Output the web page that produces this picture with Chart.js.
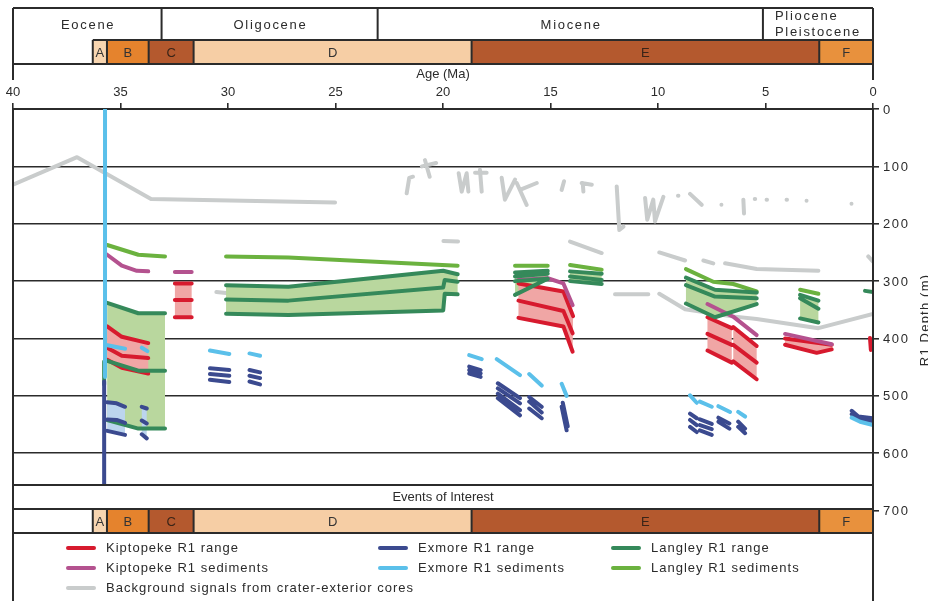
<!DOCTYPE html>
<html>
<head>
<meta charset="utf-8">
<script src="https://cdn.jsdelivr.net/npm/chart.js@4.4.1/dist/chart.umd.min.js"></script>
<style>
  html, body { margin: 0; padding: 0; background: #fff; }
  #chart { display: block; }
</style>
</head>
<body>
<canvas id="chart" width="928" height="601"></canvas>
<script>
// time scale
const epochNames = ["Eocene", "Oligocene", "Miocene", "Pliocene\nPleistocene"];
const epochBounds = [40, 33.09, 23.04, 5.12, 0];
const stageNames = ["A", "B", "C", "D", "E", "F"];
const stageBounds = [36.29, 35.63, 33.69, 31.6, 18.67, 2.5, 0];
const stageColors = ["#f7d5b0", "#e5832d", "#b4592e", "#f6cea5", "#b4592e", "#e8913d"];

const ageTicks = [40, 35, 30, 25, 20, 15, 10, 5, 0];
const depthTicks = [0, 100, 200, 300, 400, 500, 600, 700];

const seriesNames = [
  "Kiptopeke R1 range", "Kiptopeke R1 sediments",
  "Exmore R1 range", "Exmore R1 sediments",
  "Langley R1 range", "Langley R1 sediments",
  "Background signals from crater-exterior cores"
];

// [age Ma, depth m] segments
const kiptopekeRange = [
  [[32.47, 304], [31.69, 304]],
  [[32.47, 333], [31.69, 333]],
  [[32.47, 363], [31.69, 363]],
  [[35.62, 379], [34.94, 397], [33.71, 408]],
  [[35.62, 416], [34.94, 430], [33.71, 434]],
  [[35.62, 437], [34.94, 451], [33.71, 461]],
  [[16.49, 304], [14.40, 318], [13.95, 361]],
  [[16.49, 334], [14.40, 352], [13.97, 391]],
  [[16.49, 364], [14.40, 379], [13.97, 423]],
  [[7.70, 363], [6.57, 382]],
  [[7.70, 392], [6.57, 411]],
  [[7.70, 421], [6.57, 442]],
  [[6.50, 380], [5.41, 413]],
  [[6.50, 411], [5.41, 442]],
  [[6.50, 440], [5.41, 471]],
  [[4.09, 400], [1.92, 411]],
  [[4.09, 411], [2.62, 425], [1.92, 419]],
  [[0.14, 399], [0.10, 420]]
];
const kiptopekeBands = [[0, 2], [3, 5], [6, 8], [9, 11], [12, 14], [15, 16]];

const kiptopekeSediments = [
  [[35.62, 254], [34.94, 273], [34.24, 282], [33.71, 283]],
  [[32.47, 284], [31.69, 284]],
  [[16.49, 298], [15.13, 295], [14.40, 304], [13.97, 342]],
  [[7.70, 340], [6.50, 362], [5.41, 394]],
  [[4.09, 392], [1.92, 410]]
];

const exmoreRange = [
  [[35.76, 475], [35.76, 660]],
  [[35.62, 511], [35.18, 513], [34.79, 519]],
  [[35.62, 541], [35.18, 542], [34.79, 547]],
  [[35.62, 561], [34.79, 568]],
  [[34.01, 519], [33.78, 522]],
  [[34.01, 543], [33.78, 548]],
  [[34.01, 567], [33.78, 574]],
  [[30.84, 452], [29.94, 455]],
  [[30.84, 462], [29.94, 465]],
  [[30.84, 472], [29.94, 476]],
  [[29.00, 455], [28.51, 459]],
  [[29.00, 465], [28.51, 469]],
  [[29.00, 475], [28.51, 480]],
  [[18.78, 449], [18.25, 455]],
  [[18.78, 455], [18.25, 461]],
  [[18.78, 461], [18.25, 467]],
  [[17.45, 478], [16.42, 504]],
  [[17.45, 487], [16.42, 513]],
  [[17.45, 496], [16.42, 525]],
  [[17.45, 504], [16.42, 534]],
  [[15.99, 502], [15.41, 519]],
  [[15.99, 510], [15.41, 529]],
  [[15.99, 522], [15.41, 539]],
  [[14.48, 519], [14.25, 560]],
  [[14.43, 512], [14.20, 553]],
  [[8.51, 531], [8.20, 539]],
  [[8.51, 542], [8.20, 551]],
  [[8.51, 554], [8.20, 563]],
  [[8.05, 541], [7.50, 549]],
  [[8.05, 551], [7.50, 558]],
  [[8.05, 560], [7.50, 568]],
  [[7.19, 538], [6.68, 548]],
  [[7.19, 545], [6.68, 557]],
  [[6.27, 545], [5.95, 557]],
  [[6.27, 554], [5.95, 565]],
  [[0.99, 526], [0.68, 536], [0, 539]],
  [[0.99, 532], [0.68, 541], [0, 544]]
];
const exmoreBands = [[1, 3], [4, 6]];

const exmoreSediments = [
  [[35.72, 0], [35.72, 467]],
  [[35.72, 411], [34.79, 418]],
  [[34.01, 416], [33.75, 422]],
  [[30.84, 421], [29.94, 427]],
  [[29.00, 426], [28.51, 430]],
  [[18.78, 429], [18.20, 436]],
  [[17.50, 436], [16.42, 464]],
  [[15.99, 462], [15.41, 482]],
  [[14.48, 479], [14.25, 500]],
  [[8.51, 499], [8.20, 512]],
  [[8.05, 510], [7.50, 519]],
  [[7.19, 518], [6.65, 528]],
  [[6.27, 528], [5.95, 536]],
  [[0.99, 538], [0.60, 545], [0, 551]]
];

const langleyRange = [
  [[35.62, 338], [34.17, 356], [32.93, 356]],
  [[35.62, 439], [34.17, 456], [32.93, 456]],
  [[35.62, 542], [34.17, 557], [32.93, 557]],
  [[30.09, 307], [27.19, 310], [19.99, 282], [19.32, 288]],
  [[30.09, 332], [27.19, 334], [19.99, 311], [19.92, 298], [19.32, 301]],
  [[30.09, 357], [27.19, 359], [19.99, 351], [19.92, 322], [19.32, 323]],
  [[16.65, 285], [15.13, 282]],
  [[16.65, 292], [15.13, 287]],
  [[16.65, 300], [15.13, 296]],
  [[16.65, 324], [15.13, 296]],
  [[14.09, 283], [12.62, 287]],
  [[14.09, 292], [12.62, 298]],
  [[14.09, 300], [12.62, 305]],
  [[8.70, 294], [7.35, 315], [5.41, 320]],
  [[8.70, 307], [7.35, 327], [5.41, 330]],
  [[8.70, 339], [7.35, 363], [5.41, 340]],
  [[3.39, 324], [2.54, 334]],
  [[3.39, 330], [2.54, 348]],
  [[3.39, 365], [2.54, 372]],
  [[0.37, 317], [0, 319]],
  [[35.76, 440], [35.76, 480]]
];
const langleyBands = [[0, 2], [3, 5], [6, 9], [10, 12], [13, 15], [16, 18]];

const langleySediments = [
  [[35.62, 237], [34.17, 254], [32.93, 257]],
  [[30.09, 257], [27.19, 259], [19.32, 273]],
  [[16.65, 273], [15.13, 273]],
  [[14.09, 272], [12.62, 280]],
  [[8.70, 279], [7.43, 301], [6.50, 305], [5.41, 318]],
  [[3.39, 315], [2.54, 322]]
];

const background = [
  [[40, 132], [37.02, 84], [33.58, 157], [25.02, 163]],
  [[30.54, 319], [29.75, 322]],
  [[19.98, 230], [19.30, 231]],
  [[14.09, 231], [12.62, 251]],
  [[12.00, 323], [10.45, 323]],
  [[9.94, 322], [8.74, 349], [6.65, 361], [5.41, 366], [2.54, 382], [0, 357]],
  [[9.94, 250], [8.74, 264]],
  [[7.89, 264], [7.43, 269]],
  [[6.88, 269], [5.41, 279], [2.54, 282]],
  [[0.22, 257], [0, 266]],
  [[21.69, 147], [21.57, 120], [21.40, 118]],
  [[20.84, 89], [20.62, 118]],
  [[20.98, 100], [20.32, 94]],
  [[19.27, 112], [19.13, 144], [18.90, 112], [18.82, 144]],
  [[18.28, 106], [18.20, 144]],
  [[18.51, 111], [17.97, 111]],
  [[17.27, 120], [17.12, 158], [16.65, 123]],
  [[16.57, 129], [16.11, 167]],
  [[16.42, 141], [15.64, 129]],
  [[14.48, 141], [14.37, 126]],
  [[13.55, 129], [13.08, 132]],
  [[13.50, 129], [13.47, 144]],
  [[11.92, 135], [11.80, 211], [11.61, 205]],
  [[10.60, 155], [10.50, 193], [10.22, 158], [10.14, 196], [9.75, 153]],
  [[9.07, 151], [9.05, 151]],
  [[8.51, 148], [7.97, 167]],
  [[7.05, 167], [7.03, 167]],
  [[6.03, 158], [6.00, 182]],
  [[5.50, 157], [5.48, 157]],
  [[4.95, 158], [4.93, 158]],
  [[4.02, 158], [4.00, 158]],
  [[3.09, 160], [3.07, 160]],
  [[1.00, 165], [0.98, 165]]
];

const colors = {
  kipRange: "#d71a2e", kipSed: "#b4528f",
  exRange: "#3b4a8f", exSed: "#5bc0ea",
  lanRange: "#35895a", lanSed: "#6bb23f",
  bg: "#c9cccc",
  kipFill: "#f0a6a5", exFill: "#bcd5ee", lanFill: "#b9d79e"
};
const ink = "#2b2b2b";
const fontFamily = '"Liberation Sans", Arial, sans-serif';
Chart.defaults.font.family = fontFamily;

const toPoints = (segs) => segs.flatMap((s) => [
  ...s.map(([x, y]) => ({ x, y })),
  { x: s[s.length - 1][0], y: null }
]);

function lineSet(label, segs, color, order) {
  return {
    label, data: toPoints(segs), borderColor: color, borderWidth: 4,
    pointRadius: 0, fill: false, spanGaps: false, tension: 0,
    borderCapStyle: "round", borderJoinStyle: "round", order
  };
}

function bandSets(label, segs, bands, color, order) {
  return bands.map(([a, b]) => ({
    label,
    data: [...segs[a], ...segs[b].slice().reverse(), segs[a][0]].map(([x, y]) => ({ x, y })),
    borderWidth: 0, borderColor: "rgba(0,0,0,0)", backgroundColor: color,
    pointRadius: 0, fill: "shape", tension: 0, order
  }));
}

const datasets = [
  lineSet(seriesNames[6], background, colors.bg, 10),
  ...bandSets("lanFill", langleyRange, langleyBands, colors.lanFill, 7),
  ...bandSets("kipFill", kiptopekeRange, kiptopekeBands, colors.kipFill, 6),
  ...bandSets("exFill", exmoreRange, exmoreBands, colors.exFill, 6),
  lineSet(seriesNames[0], kiptopekeRange, colors.kipRange, 4),
  lineSet(seriesNames[1], kiptopekeSediments, colors.kipSed, 3),
  lineSet(seriesNames[4], langleyRange, colors.lanRange, 2),
  lineSet(seriesNames[5], langleySediments, colors.lanSed, 2),
  lineSet(seriesNames[2], exmoreRange, colors.exRange, 1),
  lineSet(seriesNames[3], exmoreSediments, colors.exSed, 0)
];

const legendColors = [colors.kipRange, colors.kipSed, colors.exRange, colors.exSed, colors.lanRange, colors.lanSed, colors.bg];

function label(ctx, s, x, y, size, spacing, align, color) {
  ctx.font = size + "px " + fontFamily;
  ctx.letterSpacing = spacing + "px";
  ctx.textAlign = align || "center";
  ctx.textBaseline = "middle";
  ctx.fillStyle = color || ink;
  ctx.fillText(s, align === "left" || !align ? x : x + spacing / 2, y);
}

function hline(ctx, x1, x2, y) { ctx.beginPath(); ctx.moveTo(x1, y); ctx.lineTo(x2, y); ctx.stroke(); }
function vline(ctx, x, y1, y2) { ctx.beginPath(); ctx.moveTo(x, y1); ctx.lineTo(x, y2); ctx.stroke(); }

function stageBar(ctx, xs, top, bottom) {
  for (let i = 0; i < stageNames.length; i++) {
    const x1 = xs.getPixelForValue(stageBounds[i]);
    const x2 = xs.getPixelForValue(stageBounds[i + 1]);
    ctx.fillStyle = stageColors[i];
    ctx.fillRect(x1, top, x2 - x1, bottom - top);
    label(ctx, stageNames[i], (x1 + x2) / 2, (top + bottom) / 2 + 1, 13, 0, "center", i === 2 || i === 4 ? "#3a2418" : "#333");
    vline(ctx, x1, top, bottom);
  }
}

const framePlugin = {
  id: "frame",
  beforeDraw(chart) {
    const { ctx } = chart;
    ctx.save();
    ctx.fillStyle = "#fff";
    ctx.fillRect(0, 0, chart.width, chart.height);
    ctx.restore();
  },
  afterDatasetsDraw(chart) {
    const { ctx, scales: { x, y }, chartArea: a } = chart;
    const evTop = 485, barTop = 509, barBot = a.bottom;
    ctx.save();
    ctx.fillStyle = "#fff";
    ctx.fillRect(a.left, evTop, a.right - a.left, barBot - evTop);
    ctx.strokeStyle = ink;
    ctx.lineWidth = 2;
    stageBar(ctx, x, barTop, barBot);
    hline(ctx, a.left, a.right, evTop);
    hline(ctx, a.left, a.right, barTop);
    hline(ctx, a.left, a.right, barBot);
    label(ctx, "Events of Interest", (a.left + a.right) / 2, (evTop + barTop) / 2, 13, 0, "center");

    // top time scale
    const top = 8, mid = 40, bot = 64;
    ctx.fillStyle = "#fff";
    ctx.fillRect(a.left, top, a.right - a.left, bot - top);
    stageBar(ctx, x, mid, bot);
    hline(ctx, a.left, a.right, top);
    hline(ctx, x.getPixelForValue(stageBounds[0]), a.right, mid);
    hline(ctx, a.left, a.right, bot);
    for (let i = 0; i < epochNames.length; i++) {
      const x1 = x.getPixelForValue(epochBounds[i]);
      const x2 = x.getPixelForValue(epochBounds[i + 1]);
      if (i > 0) vline(ctx, x1, top, mid);
      const lines = epochNames[i].split("\n");
      if (lines.length === 1) {
        label(ctx, lines[0], (x1 + x2) / 2, 25, 13, 1.7, "center");
      } else {
        label(ctx, lines[0], x1 + 12, 16, 13, 1.7, "left");
        label(ctx, lines[1], x1 + 12, 32, 13, 1.7, "left");
      }
    }
    label(ctx, "Age (Ma)", (a.left + a.right) / 2, 74, 13, 0, "center");

    // outer frame
    vline(ctx, a.left, top, 80);
    vline(ctx, a.right, top, 80);
    vline(ctx, a.left, a.top, chart.height);
    vline(ctx, a.right, a.top, chart.height);

    // depth labels
    y.ticks.forEach((t) => {
      label(ctx, String(t.value), a.right + 10, y.getPixelForValue(t.value) + 1, 13, 1.6, "left");
    });
    ctx.save();
    ctx.translate(929, 320);
    ctx.rotate(-Math.PI / 2);
    ctx.font = "13px " + fontFamily;
    ctx.letterSpacing = "1.2px";
    ctx.textAlign = "center";
    ctx.textBaseline = "alphabetic";
    ctx.fillStyle = ink;
    ctx.fillText("R1 Depth (m)", 0, 0);
    ctx.restore();

    // legend
    const cols = [68, 380, 613];
    const rows = [548, 568, 588];
    const place = [[0, 0], [0, 1], [1, 0], [1, 1], [2, 0], [2, 1], [0, 2]];
    seriesNames.forEach((name, i) => {
      const [c, r] = place[i];
      ctx.strokeStyle = legendColors[i];
      ctx.lineWidth = 4;
      ctx.lineCap = "round";
      hline(ctx, cols[c], cols[c] + 26, rows[r]);
      label(ctx, name, cols[c] + 38, rows[r], 13, 1, "left");
    });
    ctx.restore();
  }
};

new Chart(document.getElementById("chart"), {
  type: "line",
  data: { datasets },
  options: {
    responsive: false,
    animation: false,
    events: [],
    layout: { padding: { top: 60, left: 13, right: 0, bottom: 68 } },
    plugins: { legend: { display: false }, tooltip: { enabled: false } },
    scales: {
      x: {
        type: "linear", position: "top", reverse: true, min: 0, max: 40,
        afterFit: (s) => { s.height = 49; },
        afterBuildTicks: (s) => { s.ticks = ageTicks.map((v) => ({ value: v })); },
        ticks: { color: ink, font: { size: 13 }, padding: 3, maxRotation: 0, autoSkip: false },
        grid: { drawOnChartArea: false, drawTicks: true, tickLength: 6, tickColor: ink, lineWidth: 1.6 },
        border: { display: true, color: ink, width: 2 }
      },
      y: {
        type: "linear", position: "right", reverse: true, min: 0, max: 739,
        afterFit: (s) => { s.width = 55; },
        afterBuildTicks: (s) => { s.ticks = depthTicks.map((v) => ({ value: v })); },
        ticks: { display: false },
        grid: {
          color: (c) => (c.tick && c.tick.value > 0 && c.tick.value <= 600) ? ink : "rgba(0,0,0,0)",
          lineWidth: 1.6, drawTicks: true, tickLength: 6, tickColor: ink
        },
        border: { display: true, color: ink, width: 2 }
      }
    }
  },
  plugins: [framePlugin]
});
</script>
</body>
</html>
